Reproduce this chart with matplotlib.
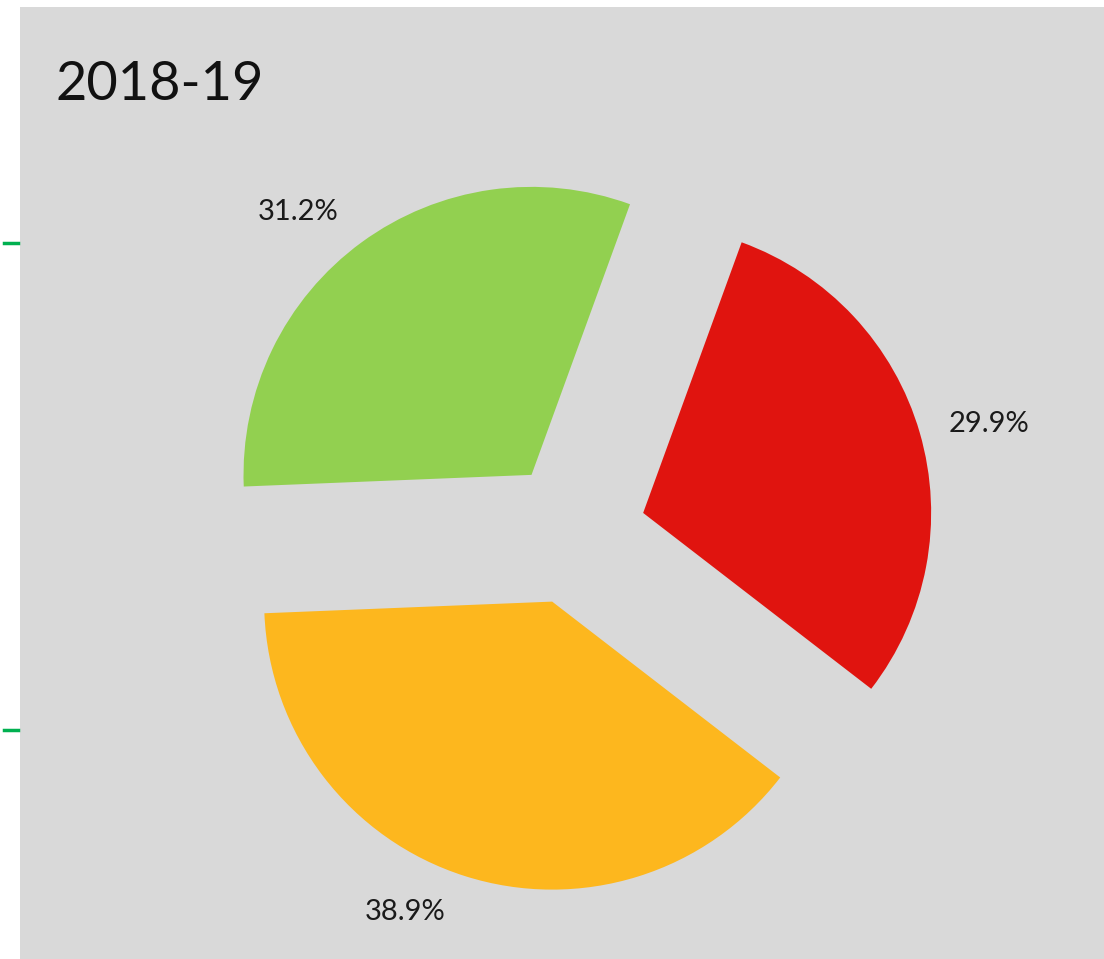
import matplotlib
matplotlib.use("Agg")
import matplotlib.pyplot as plt
from matplotlib.patches import Rectangle
from matplotlib.lines import Line2D

title = "2018-19"
categories = ["Red", "Yellow", "Green"]
shares = [29.9, 38.9, 31.2]
colors = ["#E0140F", "#FDB71E", "#92D050"]

W, H = 1104, 959
fig = plt.figure(figsize=(W / 100, H / 100), dpi=100)
fig.patch.set_facecolor("white")

# gray panel
fig.add_artist(Rectangle((20 / W, 0), 1 - 20 / W, (H - 7) / H,
                         transform=fig.transFigure, facecolor="#D9D9D9",
                         edgecolor="none", zorder=0))
# small green tick marks at left
for py in (243, 730):
    fig.add_artist(Line2D([4 / W, 18 / W], [1 - py / H, 1 - py / H],
                          transform=fig.transFigure, color="#00B050", lw=2.5))

ax = fig.add_axes([0, 0, 1, 1])
ax.set_facecolor("none")
cx, cy, R = 574, 533, 288
wedges, texts, autotexts = ax.pie(
    shares, colors=colors, startangle=70, counterclock=False,
    explode=[0.25, 0.25, 0.25], autopct="%1.1f%%", pctdistance=1.22,
    wedgeprops=dict(linewidth=0),
    textprops=dict(fontsize=21, color="#1a1a1a", family="Lato"))
# label placement (layout, in pie radius units)
label_xy = [(1.441, 0.378), (-0.587, -1.316), (-0.958, 1.115)]
for t, xy in zip(autotexts, label_xy):
    t.set_position(xy)
ax.set_xlim(-cx / R, (W - cx) / R)
ax.set_ylim((cy - H) / R, cy / R)
ax.set_aspect("equal")
ax.axis("off")

fig.text(56 / W, 1 - 84 / H, title, fontsize=39, family="Lato",
         fontweight="normal", color="#111111", va="center", ha="left")

fig.savefig("out.png", dpi=100)
